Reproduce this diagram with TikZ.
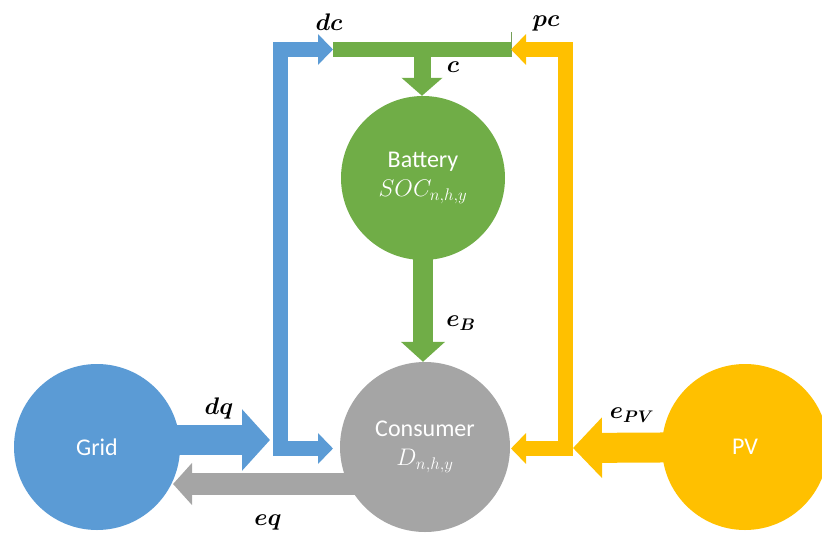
\documentclass[tikz,border=0pt]{standalone}
\usepackage{fix-cm}
\usepackage{bm}
\usepackage{fontspec}
\setmainfont{Carlito}
\usetikzlibrary{arrows.meta,backgrounds}

\definecolor{gridblue}{HTML}{5B9BD5}
\definecolor{battgreen}{HTML}{70AD47}
\definecolor{consgray}{HTML}{A5A5A5}
\definecolor{pvyellow}{HTML}{FFC000}

\tikzset{
  unit/.style={circle, draw=none, fill=#1, minimum size=166pt, inner sep=0pt,
    text=white, align=center, font=\fontsize{24}{29}\selectfont},
  flow/.style={draw=#1, line join=miter, line cap=butt},
  thinflow/.style={flow=#1, line width=15pt},
  thintip/.tip={Triangle[length=15pt,width=30pt]},
  lbl/.style={inner sep=0pt, font=\fontsize{24}{28}\selectfont}
}

\begin{document}
\begin{tikzpicture}[x=1pt,y=-1pt]
\useasboundingbox (0,0) rectangle (822,533);

% energy units
\node[unit=gridblue]   (grid)     at (97,447)  {Grid};
\node[unit=battgreen, minimum size=164pt]  (battery)  at (423,178) {Battery\\$SOC_{n,h,y}$};
\node[unit=consgray, minimum size=170pt]   (consumer) at (425,447) {Consumer\\$D_{n,h,y}$};
\node[unit=pvyellow]   (pv)       at (745,447) {PV};

% junction points of the flows
\coordinate (dcpt)  at (333,49.5);
\coordinate (pcpt)  at (511,49.5);
\coordinate (blTop) at (280,49.5);
\coordinate (blBot) at (280,448.5);
\coordinate (blEnd) at (333,448.5);
\coordinate (ylTop) at (565,49.5);
\coordinate (ylBot) at (565,448.5);
\coordinate (ylEnd) at (511,448.5);
\coordinate (tee)   at (422,50);
\coordinate (dqEnd) at (270,440);
\coordinate (eqEnd) at (173,484);
\coordinate (pvEnd) at (573,448);

\begin{scope}[on background layer]
  % charging bus
  \draw[thinflow=battgreen] (dcpt) -- (pcpt);
  \draw[battgreen!70!gray, line width=0.8pt] (511,32) -- (511,57);
  \draw[flow=battgreen, line width=17pt, -{Triangle[length=18pt,width=40pt]}]
    (tee) -- (tee |- battery.north);
  % battery discharge
  \draw[flow=battgreen, line width=20pt, -{Triangle[length=20pt,width=43pt]}]
    (battery.center) -- (battery.center |- consumer.north);
  % grid flows
  \draw[flow=gridblue, line width=30pt, -{Triangle[length=28pt,width=60pt]}]
    (grid.center |- dqEnd) -- (dqEnd);
  \draw[thinflow=gridblue, thintip-thintip]
    (dcpt) -- (blTop) -- (blBot) -- (blEnd);
  \draw[flow=consgray, line width=22pt, -{Triangle[length=19pt,width=41pt]}]
    (consumer.center |- eqEnd) -- (eqEnd);
  % PV flows
  \draw[flow=pvyellow, line width=30pt, -{Triangle[length=29pt,width=59pt]}]
    (pv.center) -- (pvEnd);
  \draw[thinflow=pvyellow, thintip-thintip]
    (pcpt) -- (ylTop) -- (ylBot) -- (ylEnd);
\end{scope}

% flow labels
\node[lbl] (ldc)  at (329,22)  {$\bm{dc}$};
\node[lbl] (lpc)  at (546,23)  {$\bm{pc}$};
\node[lbl] (lc)   at (453,67)  {$\bm{c}$};
\node[lbl] (leb)  at (461,323) {$\bm{e_B}$};
\node[lbl] (ldq)  at (219,408) {$\bm{dq}$};
\node[lbl] (leq)  at (268,522) {$\bm{eq}$};
\node[lbl] (lepv) at (632,415) {$\bm{e_{PV}}$};
\end{tikzpicture}
\end{document}
